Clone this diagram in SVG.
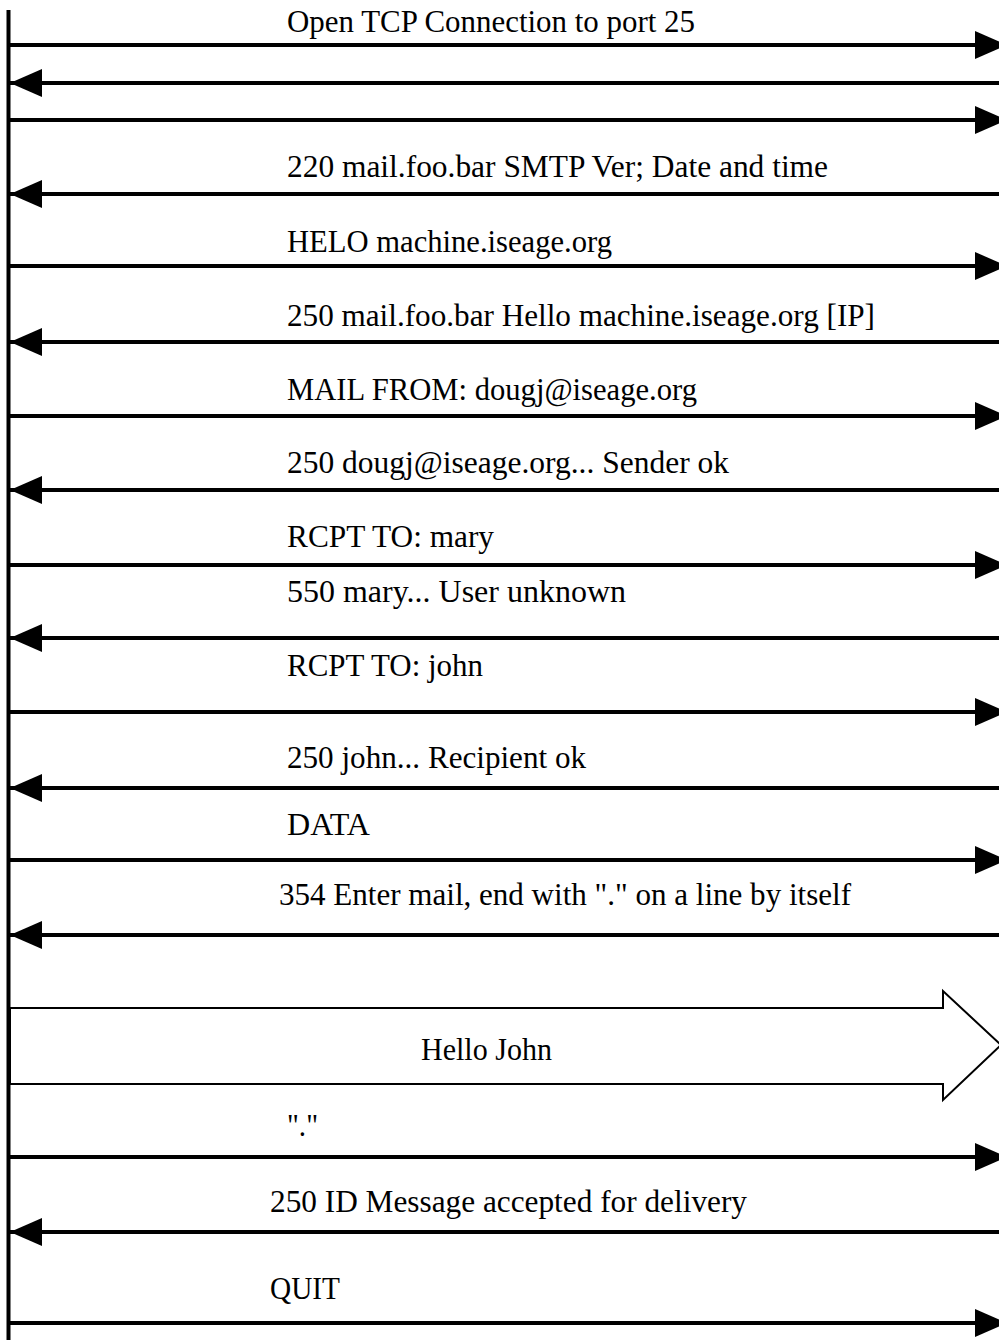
<svg xmlns="http://www.w3.org/2000/svg" width="999" height="1340" viewBox="0 0 999 1340">
<style>
.ln{stroke:#000;stroke-width:4;fill:none}
.lbl{font-family:"Liberation Serif","Times New Roman",serif;font-size:31px;fill:#000}
.blk{stroke:#000;stroke-width:2;fill:#fff}
</style>
<defs>
<marker id="ah" markerUnits="userSpaceOnUse" markerWidth="32" markerHeight="28" refX="32" refY="14" orient="auto">
<path d="M0,0 L32,14 L0,28 Z" fill="#000"/>
</marker>
</defs>
<rect width="999" height="1340" fill="#fff"/>
<g id="lifeline">
<line x1="8.5" y1="10" x2="8.5" y2="1340" stroke="#000" stroke-width="4"/>
</g>
<g id="connectors">
<line class="ln" x1="10" y1="45" x2="1007" y2="45" marker-end="url(#ah)"/>
<line class="ln" x1="999" y1="83" x2="10" y2="83" marker-end="url(#ah)"/>
<line class="ln" x1="10" y1="120" x2="1007" y2="120" marker-end="url(#ah)"/>
<line class="ln" x1="999" y1="194" x2="10" y2="194" marker-end="url(#ah)"/>
<line class="ln" x1="10" y1="266" x2="1007" y2="266" marker-end="url(#ah)"/>
<line class="ln" x1="999" y1="342" x2="10" y2="342" marker-end="url(#ah)"/>
<line class="ln" x1="10" y1="416" x2="1007" y2="416" marker-end="url(#ah)"/>
<line class="ln" x1="999" y1="490" x2="10" y2="490" marker-end="url(#ah)"/>
<line class="ln" x1="10" y1="565" x2="1007" y2="565" marker-end="url(#ah)"/>
<line class="ln" x1="999" y1="638" x2="10" y2="638" marker-end="url(#ah)"/>
<line class="ln" x1="10" y1="712" x2="1007" y2="712" marker-end="url(#ah)"/>
<line class="ln" x1="999" y1="788" x2="10" y2="788" marker-end="url(#ah)"/>
<line class="ln" x1="10" y1="860" x2="1007" y2="860" marker-end="url(#ah)"/>
<line class="ln" x1="999" y1="935" x2="10" y2="935" marker-end="url(#ah)"/>
<polygon id="data-block" class="blk" points="10,1008 943,1008 943,991 1001,1045 943,1100 943,1084 10,1084"/>
<line class="ln" x1="10" y1="1157" x2="1007" y2="1157" marker-end="url(#ah)"/>
<line class="ln" x1="999" y1="1232" x2="10" y2="1232" marker-end="url(#ah)"/>
<line class="ln" x1="10" y1="1323" x2="1007" y2="1323" marker-end="url(#ah)"/>
</g>
<g id="labels">
<text class="lbl" x="287" y="32" textLength="408" lengthAdjust="spacingAndGlyphs">Open TCP Connection to port 25</text>
<text class="lbl" x="287" y="177" textLength="541" lengthAdjust="spacingAndGlyphs">220 mail.foo.bar SMTP Ver; Date and time</text>
<text class="lbl" x="287" y="252" textLength="325" lengthAdjust="spacingAndGlyphs">HELO machine.iseage.org</text>
<text class="lbl" x="287" y="326" textLength="588" lengthAdjust="spacingAndGlyphs">250 mail.foo.bar Hello machine.iseage.org [IP]</text>
<text class="lbl" x="287" y="400" textLength="410" lengthAdjust="spacingAndGlyphs">MAIL FROM: dougj@iseage.org</text>
<text class="lbl" x="287" y="473" textLength="442" lengthAdjust="spacingAndGlyphs">250 dougj@iseage.org... Sender ok</text>
<text class="lbl" x="287" y="547" textLength="207" lengthAdjust="spacingAndGlyphs">RCPT TO: mary</text>
<text class="lbl" x="287" y="602" textLength="339" lengthAdjust="spacingAndGlyphs">550 mary... User unknown</text>
<text class="lbl" x="287" y="676" textLength="196" lengthAdjust="spacingAndGlyphs">RCPT TO: john</text>
<text class="lbl" x="287" y="768" textLength="299" lengthAdjust="spacingAndGlyphs">250 john... Recipient ok</text>
<text class="lbl" x="287" y="835" textLength="83" lengthAdjust="spacingAndGlyphs">DATA</text>
<text class="lbl" x="279" y="905" textLength="572" lengthAdjust="spacingAndGlyphs">354 Enter mail, end with "." on a line by itself</text>
<text class="lbl" x="421" y="1060" textLength="131" lengthAdjust="spacingAndGlyphs">Hello John</text>
<text class="lbl" x="287" y="1136" textLength="31" lengthAdjust="spacingAndGlyphs">"."</text>
<text class="lbl" x="270" y="1212" textLength="477" lengthAdjust="spacingAndGlyphs">250 ID Message accepted for delivery</text>
<text class="lbl" x="270" y="1299" textLength="70" lengthAdjust="spacingAndGlyphs">QUIT</text>
</g>
</svg>
